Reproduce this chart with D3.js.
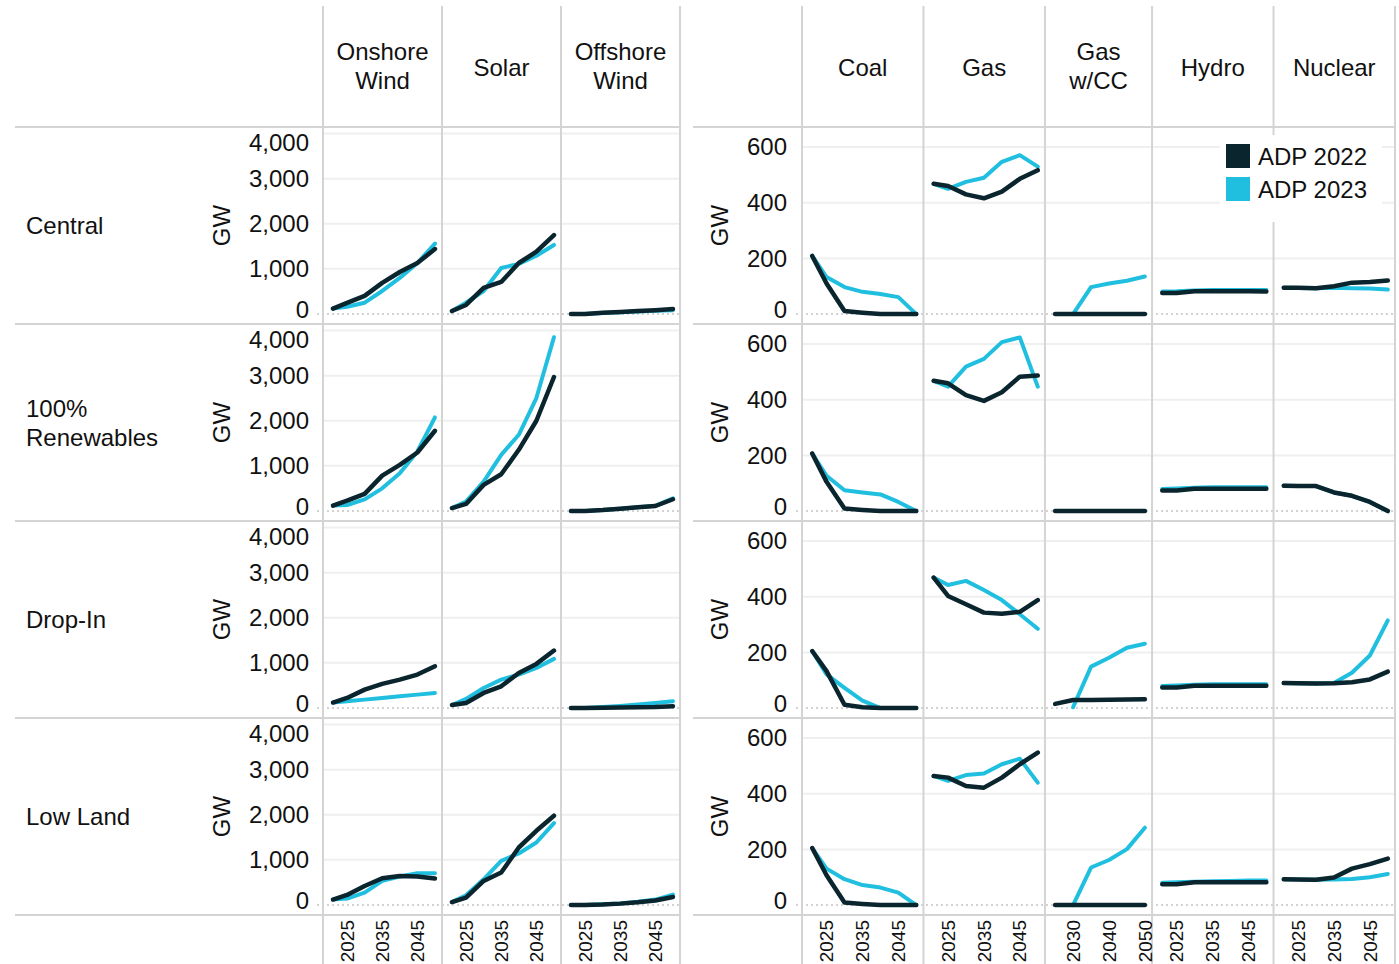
<!DOCTYPE html>
<html>
<head>
<meta charset="utf-8">
<script src="https://cdn.jsdelivr.net/npm/d3@7"></script>
<style>
  body { margin: 0; background: #fff; }
  svg text { font-family: "Liberation Sans", Arial, sans-serif; fill: #111; }
</style>
</head>
<body>
<svg id="chart" width="1399" height="964"></svg>
<script>
// ---------- data (GW) ----------
const scenarios = ["Central", "100%\nRenewables", "Drop-In", "Low Land"];
const series = ["ADP 2022", "ADP 2023"];
const years = [2021, 2025, 2030, 2035, 2040, 2045, 2050];
const yearsCCS = [2025, 2030, 2035, 2040, 2045, 2050];

const leftTicks = [0, 1000, 2000, 3000, 4000];
const rightTicks = [0, 200, 400, 600];
const yearTicks = [2025, 2035, 2045];
const yearTicksCCS = [2030, 2040, 2050];

// one row per scenario
const onshoreWind22 = [
  [120, 245, 400, 690, 930, 1130, 1440],
  [120, 230, 378, 784, 1022, 1296, 1778],
  [120, 222, 407, 533, 629, 740, 925],
  [120, 222, 422, 593, 644, 630, 585]
];
const onshoreWind23 = [
  [120, 160, 250, 510, 800, 1130, 1560],
  [120, 133, 258, 502, 836, 1318, 2074],
  [120, 148, 185, 222, 259, 296, 333],
  [120, 141, 274, 533, 630, 704, 704]
];
const solar22 = [
  [65, 200, 580, 710, 1130, 1380, 1750],
  [65, 156, 578, 815, 1356, 2000, 2970],
  [65, 111, 333, 481, 777, 977, 1273],
  [65, 163, 533, 718, 1274, 1644, 1978]
];
const solar23 = [
  [65, 250, 510, 1020, 1110, 1290, 1530],
  [65, 207, 651, 1244, 1689, 2503, 3851],
  [65, 200, 444, 629, 740, 888, 1088],
  [65, 215, 570, 978, 1141, 1385, 1815]
];
const offshoreWind22 = [
  [0, 0, 25, 45, 65, 85, 110],
  [0, 0, 20, 50, 80, 110, 260],
  [0, 0, 5, 10, 15, 20, 40],
  [0, 0, 10, 30, 60, 100, 178]
];
const offshoreWind23 = [
  [0, 0, 20, 40, 55, 70, 85],
  [0, 0, 20, 50, 80, 115, 280],
  [0, 0, 20, 45, 75, 110, 150],
  [0, 0, 15, 35, 70, 120, 230]
];
const coal22 = [
  [209, 110, 11, 5, 0, 0, 0],
  [207, 105, 9, 4, 0, 0, 0],
  [205, 133, 12, 3, 0, 0, 0],
  [205, 107, 9, 4, 0, 0, 0]
];
const coal23 = [
  [209, 133, 97, 80, 72, 61, 0],
  [207, 127, 75, 67, 60, 33, 0],
  [205, 121, 73, 27, 0, 0, 0],
  [205, 131, 93, 72, 63, 45, 0]
];
const gas22 = [
  [468, 460, 430, 416, 440, 486, 517],
  [468, 459, 417, 396, 427, 483, 487],
  [469, 403, 373, 343, 339, 346, 388],
  [464, 458, 428, 422, 458, 506, 548]
];
const gas23 = [
  [468, 450, 475, 490, 547, 571, 530],
  [468, 447, 519, 547, 607, 624, 447],
  [469, 442, 457, 424, 388, 337, 285],
  [464, 446, 467, 473, 506, 526, 440]
];
const gasCCS22 = [
  [0, 0, 0, 0, 0, 0],
  [0, 0, 0, 0, 0, 0],
  [15, 29, 29, 30, 31, 32],
  [0, 0, 0, 0, 0, 0]
];
const gasCCS23 = [
  [null, 0, 97, 110, 120, 135],
  [null, 0, 0, 0, 0, 0],
  [null, 3, 149, 181, 217, 231],
  [null, 0, 135, 162, 201, 278]
];
const hydro22 = [
  [76, 76, 82, 82, 82, 82, 81],
  [74, 74, 80, 80, 80, 80, 80],
  [74, 74, 80, 80, 80, 80, 80],
  [75, 75, 82, 82, 82, 82, 82]
];
const hydro23 = [
  [81, 82, 85, 87, 87, 87, 87],
  [79, 81, 84, 86, 86, 86, 86],
  [79, 81, 84, 86, 86, 86, 86],
  [80, 82, 84, 86, 87, 88, 88]
];
const nuclear22 = [
  [95, 95, 93, 100, 113, 115, 121],
  [91, 90, 90, 67, 55, 33, 0],
  [90, 89, 88, 89, 93, 103, 131],
  [93, 92, 91, 99, 131, 147, 167]
];
const nuclear23 = [
  [95, 94, 93, 95, 93, 92, 88],
  [91, 90, 90, 67, 55, 33, 0],
  [90, 89, 88, 90, 127, 189, 315],
  [93, 92, 91, 92, 94, 100, 112]
];

const leftTechs = [
  { name: "Onshore\nWind", x: years, ticks: yearTicks, a: onshoreWind22, b: onshoreWind23 },
  { name: "Solar", x: years, ticks: yearTicks, a: solar22, b: solar23 },
  { name: "Offshore\nWind", x: years, ticks: yearTicks, a: offshoreWind22, b: offshoreWind23 }
];
const rightTechs = [
  { name: "Coal", x: years, ticks: yearTicks, a: coal22, b: coal23 },
  { name: "Gas", x: years, ticks: yearTicks, a: gas22, b: gas23 },
  { name: "Gas\nw/CC", x: yearsCCS, ticks: yearTicksCCS, a: gasCCS22, b: gasCCS23 },
  { name: "Hydro", x: years, ticks: yearTicks, a: hydro22, b: hydro23 },
  { name: "Nuclear", x: years, ticks: yearTicks, a: nuclear22, b: nuclear23 }
];

// ---------- layout ----------
const colors = { "ADP 2022": "#0a252d", "ADP 2023": "#20bfdf" };
const rowTop0 = 127, rowH = 197;
const gridColor = "#efefef", sepColor = "#d4d4d4";

const svg = d3.select("#chart");
const gGrid = svg.append("g");
const gSep = svg.append("g");
const gLines = svg.append("g");
const gText = svg.append("g");

// pad the year domain a little on each side (like the original)
const padL = 2.84, padR = 2;

function layoutCols(techs, x0, x1) {
  const spans = techs.map(t => (t.x[t.x.length - 1] + padR) - (t.x[0] - padL));
  const k = (x1 - x0) / d3.sum(spans);
  let cur = x0;
  techs.forEach((t, i) => {
    const w = spans[i] * k;
    t.x0 = cur;
    t.x1 = cur + w;
    t.scale = d3.scaleLinear()
      .domain([t.x[0] - padL, t.x[t.x.length - 1] + padR])
      .range([cur, cur + w]);
    cur += w;
  });
}

layoutCols(leftTechs, 323, 680);
layoutCols(rightTechs, 802, 1395);

const sections = [
  { techs: leftTechs, domain: [-200, 4100], ticks: leftTicks, fmt: d3.format(","),
    lineX0: 15, lineX1: 680, labelX: 309, gwX: 222 },
  { techs: rightTechs, domain: [-32, 665], ticks: rightTicks, fmt: d3.format(","),
    lineX0: 693, lineX1: 1395, labelX: 787, gwX: 720 }
];

function multiline(sel, text, cx, cy, lh) {
  const parts = text.split("\n");
  parts.forEach((p, i) => {
    sel.append("text")
      .attr("x", cx)
      .attr("y", cy + (i - (parts.length - 1) / 2) * lh)
      .attr("dy", "0.35em")
      .style("font-size", "24px")
      .text(p);
  });
}

sections.forEach(sec => {
  const first = sec.techs[0], last = sec.techs[sec.techs.length - 1];

  scenarios.forEach((sc, r) => {
    const top = rowTop0 + r * rowH;
    const y = d3.scaleLinear().domain(sec.domain).range([top + rowH - 1, top + 2]);

    // gridlines
    sec.ticks.filter(t => t !== 0).forEach(t => {
      gGrid.append("line")
        .attr("x1", first.x0).attr("x2", last.x1)
        .attr("y1", y(t)).attr("y2", y(t))
        .attr("stroke", gridColor).attr("stroke-width", 2);
    });
    gGrid.append("line")
      .attr("x1", first.x0 - 6).attr("x2", last.x1)
      .attr("y1", y(0)).attr("y2", y(0))
      .attr("stroke", "#c4c4c4").attr("stroke-width", 1.5)
      .attr("stroke-dasharray", "2,3");

    // y tick labels (clamped inside the row like the original)
    sec.ticks.forEach(t => {
      const ly = Math.min(Math.max(y(t), top + 16), top + 183);
      gText.append("text")
        .attr("x", sec.labelX).attr("y", ly).attr("dy", "0.35em")
        .attr("text-anchor", "end")
        .style("font-size", "24px")
        .text(sec.fmt(t));
    });

    gText.append("text")
      .attr("transform", `translate(${sec.gwX},${top + rowH / 2}) rotate(-90)`)
      .attr("text-anchor", "middle").attr("dy", "0.35em")
      .style("font-size", "24px")
      .text("GW");

    // lines: ADP 2023 underneath, ADP 2022 on top
    sec.techs.forEach(t => {
      [["ADP 2023", t.b, 4], ["ADP 2022", t.a, 4.5]].forEach(([name, vals, sw]) => {
        const pts = t.x.map((yr, i) => ({ yr, v: vals[r][i] }));
        const line = d3.line()
          .defined(d => d.v != null)
          .x(d => t.scale(d.yr))
          .y(d => y(d.v));
        gLines.append("path")
          .datum(pts)
          .attr("d", line)
          .attr("fill", "none")
          .attr("stroke", colors[name])
          .attr("stroke-width", sw)
          .attr("stroke-linejoin", "round")
          .attr("stroke-linecap", "round");
      });
    });
  });

  // horizontal separators
  d3.range(scenarios.length + 1).forEach(i => {
    const yy = rowTop0 + i * rowH;
    gSep.append("line")
      .attr("x1", sec.lineX0).attr("x2", sec.lineX1)
      .attr("y1", yy).attr("y2", yy)
      .attr("stroke", sepColor).attr("stroke-width", 2);
  });

  // vertical separators, headers, year ticks
  sec.techs.forEach((t, i) => {
    if (i === 0) {
      gSep.append("line")
        .attr("x1", t.x0).attr("x2", t.x0).attr("y1", 6).attr("y2", 964)
        .attr("stroke", sepColor).attr("stroke-width", 2);
    }
    gSep.append("line")
      .attr("x1", t.x1).attr("x2", t.x1).attr("y1", 6).attr("y2", 964)
      .attr("stroke", sepColor).attr("stroke-width", 2);

    const hdr = gText.append("g").attr("text-anchor", "middle");
    const oneLine = !t.name.includes("\n");
    multiline(hdr, t.name, (t.x0 + t.x1) / 2, oneLine ? 68 : 66, 29);

    t.ticks.forEach(yr => {
      gText.append("text")
        .attr("transform", `translate(${t.scale(yr)},920) rotate(-90)`)
        .attr("text-anchor", "end").attr("dy", "0.35em")
        .style("font-size", "19px")
        .text(yr);
    });
  });
});

// scenario labels
scenarios.forEach((sc, r) => {
  const g = gText.append("g").attr("text-anchor", "start");
  multiline(g, sc, 26, rowTop0 + r * rowH + 99, 29);
});

// legend
const lg = svg.append("g");
lg.append("rect").attr("x", 1220).attr("y", 135).attr("width", 162).attr("height", 87).attr("fill", "#fff");
series.forEach((s, i) => {
  lg.append("rect")
    .attr("x", 1226).attr("y", 144 + i * 33)
    .attr("width", 24).attr("height", 24)
    .attr("fill", colors[s]);
  lg.append("text")
    .attr("x", 1258).attr("y", 157 + i * 33).attr("dy", "0.35em")
    .style("font-size", "24px")
    .text(s);
});
</script>
</body>
</html>
